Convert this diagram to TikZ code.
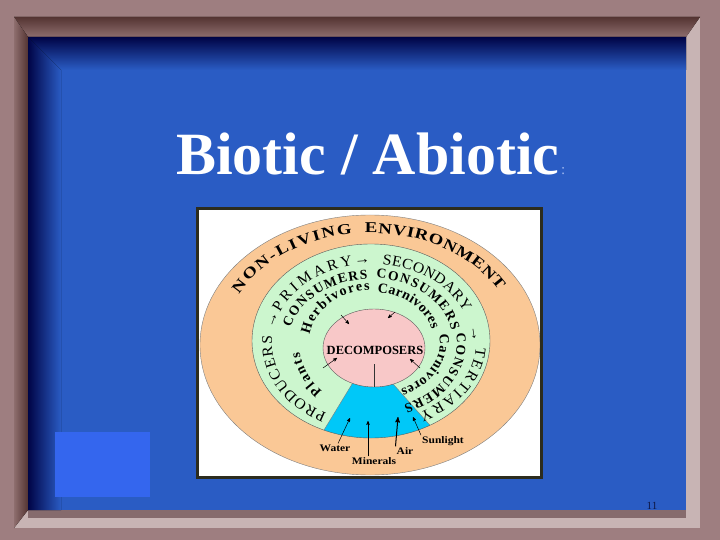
\documentclass[tikz,border=0pt]{standalone}
\usepackage{fontspec}
\setmainfont{Liberation Serif}
\newfontfamily\wideserif[FakeStretch=1.25]{Liberation Serif}
\newfontfamily\ringserif[FakeStretch=1.05]{Liberation Serif}
\newfontfamily\innerserif[FakeStretch=1.15]{Liberation Serif}
\usetikzlibrary{arrows}
\usetikzlibrary{decorations.text}
\definecolor{slidebg}{RGB}{158,126,128}
\definecolor{bevdark}{RGB}{84,52,50}
\definecolor{bevmid}{RGB}{142,110,110}
\definecolor{bevlight}{RGB}{200,180,180}
\definecolor{panelblue}{RGB}{42,92,196}
\definecolor{panelnavy}{RGB}{0,4,70}
\definecolor{patchblue}{RGB}{52,102,238}
\definecolor{boxline}{RGB}{44,44,30}
\definecolor{peach}{RGB}{250,200,150}
\definecolor{leafgreen}{RGB}{204,246,206}
\definecolor{rosepink}{RGB}{248,200,200}
\definecolor{watercyan}{RGB}{0,200,248}
\definecolor{colonblue}{RGB}{160,184,240}
\definecolor{pagenum}{RGB}{14,24,70}
\newcommand\envfont{\wideserif\bfseries\fontsize{15}{15}\selectfont}
\newcommand\levelfont{\ringserif\fontsize{15}{15}\selectfont}
\newcommand\consfont{\bfseries\fontsize{13.5}{13.5}\selectfont}
\newcommand\dietfont{\bfseries\fontsize{14}{14}\selectfont}

\begin{document}
\begin{tikzpicture}[x=1pt, y=-1pt,
  flow/.style={->, >=stealth', line width=.5pt},
  lbl/.style={inner sep=1pt, font=\innerserif\bfseries\fontsize{10}{10}\selectfont},
  ring/.style={decorate, decoration={text along path, text align=fit to path, text/.expanded={|\noexpand#1|\w}}}]
\fill[slidebg] (0,0) rectangle (720,540);
\fill[bevlight] (14,17) rectangle (700,528);
\fill[slidebg!85!black] (28,510) rectangle (686,518);
\fill[top color=bevdark, bottom color=bevmid] (14,17) -- (700,17) -- (686,37) -- (28,37) -- cycle;
\fill[left color=bevmid, right color=bevdark] (14,17) -- (28,37) -- (28,510) -- (14,528) -- cycle;
\fill[panelblue] (28,37) rectangle (686,510);
\fill[top color=panelnavy, bottom color=panelblue] (28,37) -- (686,37) -- (686,70) -- (61,70) -- cycle;
\fill[left color=panelnavy, right color=panelblue] (28,37) -- (61,70) -- (61,510) -- (28,510) -- cycle;
\fill[patchblue] (55,432) rectangle (150,497);
\node[anchor=base west, inner sep=0, text=white, font=\bfseries\fontsize{60}{60}\selectfont] (title) at (176,175) {Biotic / Abiotic};
\node[anchor=base west, inner sep=0, text=colonblue, font=\fontsize{15}{15}\selectfont] (colon) at (561,175) {:};
\node[anchor=base, inner sep=0, text=pagenum, font=\fontsize{11}{11}\selectfont] (pgno) at (652,509) {11};

\fill[white] (197,209) rectangle (541,477);
\begin{scope}
\clip (197,209) rectangle (541,477);
\draw[gray, fill=peach] (370,345) ellipse [x radius=170, y radius=130];
\end{scope}
\fill[leafgreen] (371,341) ellipse [x radius=119, y radius=97];
\begin{scope}
\clip (371,341) ellipse [x radius=119, y radius=97];
\draw[gray, fill=watercyan] (374,348) -- (310,453) -- (444,441) -- (361,348) -- cycle;
\end{scope}
\draw[gray!70!black] (371,341) ellipse [x radius=119, y radius=97];
\coordinate (hub) at (374,348);
\draw[gray!70!black, fill=rosepink] (hub) ellipse [x radius=51, y radius=39];
\draw[line width=3pt, boxline] (197,209) rectangle (541,477);

\node[inner sep=0, font=\bfseries\fontsize{12.5}{12.5}\selectfont] (decomp) at (375,350) {DECOMPOSERS};
\coordinate (stem) at (374,364);
\draw[gray!40!black] (stem) -- ++(0,23);

\begin{scope}[shift={(370,345)}]
\foreach \a/\b/\w in {207/263/NON-LIVING, 268/331/ENVIRONMENT}
  \path[ring=\envfont] ({147*cos(\a)},{112*sin(\a)}) arc[start angle=\a, end angle=\b, x radius=147, y radius=112];
\end{scope}
\begin{scope}[shift={(372,343)}]
\foreach \a/\b/\ra/\rb/\w in {117/185/100/79/PRODUCERS, 203/259/100/79/PRIMARY, 276/337/100/79/SECONDARY, 363/423/104/78/TERTIARY}
  \path[ring=\levelfont] ({\ra*cos(\a)},{\rb*sin(\a)}) arc[start angle=\a, end angle=\b, x radius=\ra, y radius=\rb];
\foreach \a/\b in {189/203, 259/270, 347/360}
  \path[decorate, decoration={text along path, text align=center, text={|\levelfont|→}}] ({100*cos(\a)},{79*sin(\a)}) arc[start angle=\a, end angle=\b, x radius=100, y radius=79];
\foreach \a/\b/\ra/\rb/\w in {194/267/84/64/CONSUMERS, 273/349/81/65/CONSUMERS, 352/428/85/67/CONSUMERS}
  \path[ring=\consfont] ({\ra*cos(\a)},{\rb*sin(\a)}) arc[start angle=\a, end angle=\b, x radius=\ra, y radius=\rb];
\foreach \a/\b/\ra/\rb/\w in {133/172/73/66/Plants, 189/268/63/53/Herbivores, 275/345/62/51/Carnivores, 351/425/68/51/Carnivores}
  \path[ring=\dietfont] ({\ra*cos(\a)},{\rb*sin(\a)}) arc[start angle=\a, end angle=\b, x radius=\ra, y radius=\rb];
\end{scope}

\coordinate (herbtip) at (349,324);
\coordinate (carn2tip) at (388,318);
\coordinate (planttip) at (337,358);
\coordinate (carn3tip) at (410,359);
\draw[flow] (341,315) -- (herbtip);
\draw[flow] (395,312) -- (carn2tip);
\draw[flow] (323,368) -- (planttip);
\draw[flow] (420,368) -- (carn3tip);

\node[lbl] (water) at (335,448) {Water};
\node[lbl] (minerals) at (374,461) {Minerals};
\node[lbl] (air) at (405,451) {Air};
\node[lbl] (sunlight) at (443,441) {Sunlight};
\coordinate (wtip) at (350,418);
\coordinate (mtip) at (368,421);
\coordinate (atip) at (398,417);
\coordinate (stip) at (413,417);
\draw[flow] ([xshift=3pt]water.north) -- (wtip);
\draw[flow] ([xshift=-6pt]minerals.north) -- (mtip);
\draw[flow, line width=1pt] (air.north west) -- (atip);
\draw[flow] (sunlight.north west) -- (stip);
\end{tikzpicture}
\end{document}
